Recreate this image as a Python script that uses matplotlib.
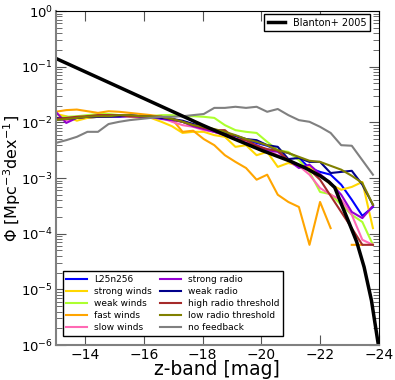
import numpy as np
import matplotlib
matplotlib.use("Agg")
import matplotlib.pyplot as plt

# magnitudes of the simulation bins
mag = np.linspace(-13.0, -23.8, 31)

# log10(Phi)
l25n256 = [-1.96,-1.94,-1.92,-1.92,-1.90,-1.89,-1.90,-1.89,-1.89,-1.90,-1.92,-1.94,-1.99,-2.05,-2.10,-2.17,
           -2.21,-2.26,-2.33,-2.37,-2.42,-2.50,-2.55,-2.64,-2.82,-2.89,-2.94,-3.12,-3.39,-3.68,-3.52]
strong_winds = [-1.85,-1.89,-1.97,-1.92,-1.90,-1.90,-1.87,-1.90,-1.92,-1.92,-1.99,-2.07,-2.19,-2.17,-2.17,-2.23,
                -2.26,-2.44,-2.41,-2.59,-2.53,-2.80,-2.73,-2.78,-2.80,-2.94,-3.12,-3.21,-3.16,-3.07,-3.90]
weak_winds = [-1.92,-1.90,-1.89,-1.87,-1.85,-1.85,-1.87,-1.89,-1.89,-1.89,-1.87,-1.87,-1.89,-1.89,-1.90,-1.92,
              -2.05,-2.14,-2.17,-2.19,-2.35,-2.50,-2.53,-2.68,-2.89,-3.25,-3.29,-3.48,-3.66,-3.79,-4.20]
fast_winds = [-1.81,-1.78,-1.77,-1.80,-1.83,-1.80,-1.81,-1.83,-1.85,-1.87,-1.90,-1.94,-2.17,-2.15,-2.30,-2.41,
              -2.59,-2.71,-2.82,-3.03,-2.94,-3.30,-3.43,-3.52,-4.20,-3.43,-3.90,np.nan,-4.20,-4.20,np.nan]
slow_winds = [-1.92,-1.96,-1.92,-1.90,-1.90,-1.89,-1.89,-1.89,-1.90,-1.92,-1.92,-1.99,-2.05,-2.08,-2.14,-2.17,
              -2.23,-2.28,-2.35,-2.42,-2.50,-2.59,-2.68,-2.78,-2.94,-3.18,-3.30,-3.39,-3.66,-4.11,-4.20]
strong_radio = [-1.81,-2.01,-1.92,-1.90,-1.90,-1.89,-1.89,-1.89,-1.90,-1.90,-1.94,-1.96,-1.99,-2.07,-2.12,-2.17,
                -2.23,-2.30,-2.37,-2.41,-2.50,-2.53,-2.68,-2.82,-2.76,-2.93,-3.09,-3.30,-3.61,-3.72,-3.50]
weak_radio = [-1.92,-1.94,-1.92,-1.90,-1.90,-1.90,-1.89,-1.87,-1.89,-1.90,-1.92,-1.94,-1.97,-2.03,-2.08,-2.14,
              -2.19,-2.24,-2.30,-2.32,-2.41,-2.44,-2.66,-2.64,-2.71,-2.71,-2.91,-2.89,-2.87,-3.12,-3.48]
high_radio = [-1.94,-1.92,-1.90,-1.89,-1.87,-1.87,-1.87,-1.89,-1.89,-1.90,-1.90,-1.94,-1.99,-2.05,-2.10,-2.14,
              -2.14,-2.30,-2.32,-2.42,-2.48,-2.51,-2.68,-2.77,-2.85,-3.03,-3.32,-3.61,-3.90,-4.20,-4.20]
low_radio = [-1.96,-1.94,-1.92,-1.90,-1.89,-1.89,-1.87,-1.87,-1.89,-1.89,-1.90,-1.94,-1.99,-2.05,-2.08,-2.12,
             -2.17,-2.23,-2.30,-2.35,-2.41,-2.50,-2.55,-2.62,-2.69,-2.71,-2.78,-2.85,-2.96,-3.09,-3.48]
no_feedback = [-2.37,-2.32,-2.26,-2.17,-2.17,-2.03,-1.99,-1.96,-1.94,-1.92,-1.90,-1.90,-1.89,-1.87,-1.85,-1.74,
               -1.74,-1.72,-1.74,-1.72,-1.81,-1.76,-1.87,-1.96,-1.99,-2.08,-2.19,-2.41,-2.42,-2.68,-2.94]

# Blanton+ 2005 curve
blanton_mag = [-13.0,-14.0,-15.0,-16.0,-17.0,-18.0,-19.0,-20.0,-21.0,-21.5,-22.0,-22.3,-22.5,-22.75,
               -23.0,-23.25,-23.5,-23.75,-24.0]
blanton_logphi = [-0.85,-1.09,-1.33,-1.57,-1.81,-2.05,-2.28,-2.50,-2.70,-2.82,-2.96,-3.07,-3.17,-3.50,
                  -3.82,-4.15,-4.60,-5.20,-6.05]

runs = [("L25n256", l25n256, "#0000FF"),
        ("strong winds", strong_winds, "#FFD700"),
        ("weak winds", weak_winds, "#ADFF2F"),
        ("fast winds", fast_winds, "#FFA500"),
        ("slow winds", slow_winds, "#FF69B4"),
        ("strong radio", strong_radio, "#9400D3"),
        ("weak radio", weak_radio, "#00008B"),
        ("high radio threshold", high_radio, "#A52A2A"),
        ("low radio threshold", low_radio, "#808000"),
        ("no feedback", no_feedback, "#808080")]

fig = plt.figure(figsize=(3.95, 3.80), dpi=100)
ax = fig.add_axes([0.141, 0.092, 0.818, 0.879])

handles = []
for name, vals, col in runs:
    h, = ax.plot(mag, 10**np.array(vals), color=col, lw=1.5, label=name)
    handles.append(h)

hb, = ax.plot(blanton_mag, 10**np.array(blanton_logphi), color="black", lw=2.5, label="Blanton+ 2005")

ax.set_yscale("log")
ax.set_xlim(-13, -24)
ax.set_ylim(1e-6, 1)
ax.set_xticks([-14, -16, -18, -20, -22, -24])
ax.set_xticklabels(["\u221214", "\u221216", "\u221218", "\u221220", "\u221222", "\u221224"])

ax.tick_params(which="both", direction="in", top=True, right=True, labelsize=10, colors="#555555",
               labelcolor="black")
ax.tick_params(which="major", length=7, width=0.8)
ax.tick_params(which="minor", length=4, width=0.6)
ax.tick_params(axis="x", which="minor", bottom=False, top=False)
ax.tick_params(axis="x", pad=2)
ax.tick_params(axis="y", pad=2, labelsize=9.5)
for s in ["left", "bottom"]:
    ax.spines[s].set_color("#808080")
    ax.spines[s].set_linewidth(1.5)

ax.set_xlabel("z-band [mag]", fontsize=13.5, labelpad=-1)
ax.set_ylabel(r"$\Phi$ [Mpc$^{-3}$dex$^{-1}$]", fontsize=11.5)
ax.yaxis.set_label_coords(-0.102, 0.5)

leg1 = ax.legend(handles=[hb], loc="upper right", bbox_to_anchor=(0.973, 0.99), borderaxespad=0,
                 fontsize=7, fancybox=False, edgecolor="black", framealpha=1, handlelength=1.8,
                 borderpad=0.35)
ax.add_artist(leg1)
leg2 = ax.legend(handles=handles, loc="lower left", bbox_to_anchor=(0.022, 0.027), borderaxespad=0,
                 ncol=2, fontsize=6.5, fancybox=False, edgecolor="black", framealpha=1,
                 handlelength=2.3, labelspacing=0.35, columnspacing=0.9)

fig.savefig("out.png", dpi=100)
